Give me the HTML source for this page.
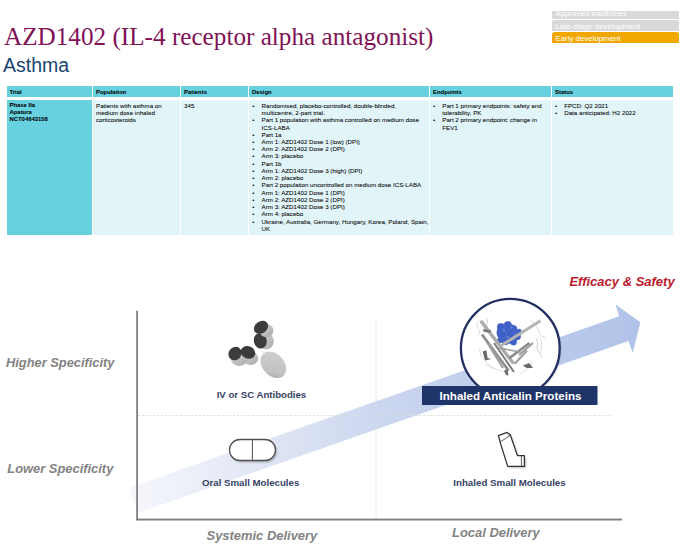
<!DOCTYPE html>
<html><head><meta charset="utf-8">
<style>
html,body{margin:0;padding:0;background:#fff;}
body{width:682px;height:556px;position:relative;overflow:hidden;font-family:"Liberation Sans",sans-serif;}
.abs{position:absolute;white-space:nowrap;}
.title{left:4px;top:22px;font-family:"Liberation Serif",serif;font-size:25.2px;color:#7F1356;line-height:30px;}
.sub{left:3px;top:54px;font-size:19.5px;color:#184670;line-height:22px;}
.leg{position:absolute;left:552px;width:126.5px;height:11px;border-radius:2.5px 2.5px 0 0;color:#fff;font-size:7.87px;line-height:11px;padding-left:3.5px;box-sizing:border-box;}
.cell{position:absolute;}
.hd{background:#68D1DF;}
.bd{background:#E1F4F8;}
.t{position:absolute;font-size:6.2px;line-height:7.24px;color:#000;white-space:nowrap;-webkit-text-stroke:0.05px #000;}
.b{font-weight:bold;font-size:5.9px;}
ul{margin:0;padding:0;list-style:none;}
li{position:relative;}
li:before{content:"\2022";position:absolute;left:-9.3px;}
</style></head><body>
<div class="abs title">AZD1402 (IL-4 receptor alpha antagonist)</div>
<div class="abs sub">Asthma</div>

<div class="leg" style="top:11px;height:8px;border-radius:0;background:#D9D9D9;line-height:6px;overflow:hidden;">Approved medicines</div>
<div class="leg" style="top:20px;background:#D9D9D9;line-height:13px;">Late-stage development</div>
<div class="leg" style="top:32.4px;background:#F0A800;line-height:13px;">Early development</div>

<!-- table header -->
<div class="cell hd" style="left:7px;top:86px;width:85px;height:11px"></div>
<div class="cell hd" style="left:93px;top:86px;width:87px;height:11px"></div>
<div class="cell hd" style="left:181px;top:86px;width:67px;height:11px"></div>
<div class="cell hd" style="left:249px;top:86px;width:180px;height:11px"></div>
<div class="cell hd" style="left:430px;top:86px;width:120.5px;height:11px"></div>
<div class="cell hd" style="left:552px;top:86px;width:120.5px;height:11px"></div>
<!-- body -->
<div class="cell hd" style="left:7px;top:100px;width:85px;height:135px"></div>
<div class="cell bd" style="left:93px;top:100px;width:87px;height:135px"></div>
<div class="cell bd" style="left:181px;top:100px;width:67px;height:135px"></div>
<div class="cell bd" style="left:249px;top:100px;width:180px;height:135px"></div>
<div class="cell bd" style="left:430px;top:100px;width:120.5px;height:135px"></div>
<div class="cell bd" style="left:552px;top:100px;width:120.5px;height:135px"></div>

<div class="t b" style="left:9.5px;top:88.8px">Trial</div>
<div class="t b" style="left:96px;top:88.8px">Population</div>
<div class="t b" style="left:184px;top:88.8px">Patients</div>
<div class="t b" style="left:252px;top:88.8px">Design</div>
<div class="t b" style="left:433px;top:88.8px">Endpoints</div>
<div class="t b" style="left:555px;top:88.8px">Status</div>

<div class="t b" style="left:9.5px;top:101.8px">Phase IIa<br>Apatura<br>NCT04643158</div>
<div class="t" style="left:96px;top:101.8px">Patients with asthma on<br>medium dose inhaled<br>corticosteroids</div>
<div class="t" style="left:184px;top:101.8px">345</div>
<div class="t" style="left:261.6px;top:101.8px"><ul>
<li>Randomised, placebo-controlled, double-blinded,<br>multicentre, 2-part trial.</li>
<li>Part 1 population with asthma controlled on medium dose<br>ICS-LABA</li>
<li>Part 1a</li>
<li>Arm 1: AZD1402 Dose 1 (low) (DPI)</li>
<li>Arm 2: AZD1402 Dose 2 (DPI)</li>
<li>Arm 3: placebo</li>
<li>Part 1b</li>
<li>Arm 1: AZD1402 Dose 3 (high) (DPI)</li>
<li>Arm 2: placebo</li>
<li>Part 2 population uncontrolled on medium dose ICS-LABA</li>
<li>Arm 1: AZD1402 Dose 1 (DPI)</li>
<li>Arm 2: AZD1402 Dose 2 (DPI)</li>
<li>Arm 3: AZD1402 Dose 3 (DPI)</li>
<li>Arm 4: placebo</li>
<li>Ukraine, Australia, Germany, Hungary, Korea, Poland, Spain,<br>UK</li>
</ul></div>
<div class="t" style="left:442.3px;top:101.8px"><ul>
<li>Part 1 primary endpoints: safety and<br>tolerability, PK</li>
<li>Part 2 primary endpoint: change in<br>FEV1</li>
</ul></div>
<div class="t" style="left:564.2px;top:101.8px"><ul>
<li>FPCD: Q2 2021</li>
<li>Data anticipated: H2 2022</li>
</ul></div>

<svg class="abs" style="left:0;top:0" width="682" height="556" viewBox="0 0 682 556">
  <defs>
    <filter id="sh" x="-20%" y="-20%" width="140%" height="140%"><feGaussianBlur stdDeviation="0.8"/></filter>
    <linearGradient id="arrowg" x1="130" y1="0" x2="640" y2="0" gradientUnits="userSpaceOnUse">
      <stop offset="0" stop-color="#F6F7FC"/>
      <stop offset="0.2" stop-color="#E6EAF6"/>
      <stop offset="0.5" stop-color="#CBD6EF"/>
      <stop offset="1" stop-color="#B0C3E8"/>
    </linearGradient>
  </defs>
  <!-- arrow band -->
  <polygon points="129,487.8 619.2,316.2 615.4,304.2 640.4,322.3 632.7,352.9 628.5,341 137.5,513" fill="url(#arrowg)"/>
  <!-- dashed guides -->
  <line x1="376" y1="319" x2="376" y2="518" stroke="#DCDCDC" stroke-width="0.9" stroke-dasharray="2.2,1.6"/>
  <line x1="138" y1="415.5" x2="612" y2="415.5" stroke="#DCDCDC" stroke-width="0.9" stroke-dasharray="2.2,1.6"/>
  <!-- circle + protein -->
  <circle cx="511.3" cy="349.5" r="50.5" fill="#000" opacity="0.07"/>
  <circle cx="510.3" cy="348.3" r="49.4" fill="#fff" stroke="#222F62" stroke-width="2.3"/>
  <g id="protein">
    <path d="M477.6,321.3 C475.0,327.6 481.3,328.9 478.8,335.2" fill="none" stroke="#CFCFCF" stroke-width="0.7"/>
    <path d="M530.5,320.1 C540.5,325.1 535.5,335.2 545.6,337.7" fill="none" stroke="#CFCFCF" stroke-width="0.7"/>
    <path d="M540.5,339.0 C544.3,347.8 538.0,350.3 541.8,357.9" fill="none" stroke="#CFCFCF" stroke-width="0.7"/>
    <path d="M480.1,347.8 C477.6,357.9 488.9,362.9 493.9,369.2" fill="none" stroke="#CFCFCF" stroke-width="0.7"/>
    <path d="M530.5,360.4 C535.5,367.9 524.2,369.2 520.4,374.2" fill="none" stroke="#CFCFCF" stroke-width="0.7"/>
    <path d="M485.1,364.2 C495.2,370.5 502.7,369.2 507.8,375.5" fill="none" stroke="#CFCFCF" stroke-width="0.7"/>
    <ellipse cx="508" cy="333.5" rx="11.5" ry="10" transform="rotate(20 508 333.5)" fill="#3D5FC5"/><g fill="#3E60C6" stroke="#5D7AD2" stroke-width="0.35"><circle cx="500.9" cy="327.0" r="3.78"/><circle cx="507.8" cy="325.1" r="3.78"/><circle cx="513.5" cy="328.9" r="3.53"/><circle cx="502.1" cy="334.6" r="3.78"/><circle cx="510.3" cy="333.9" r="4.03"/><circle cx="517.2" cy="336.4" r="3.53"/><circle cx="505.3" cy="341.5" r="3.53"/><circle cx="513.5" cy="342.1" r="3.27"/><circle cx="500.2" cy="340.2" r="2.77"/><circle cx="519.1" cy="331.4" r="2.52"/></g>
    <g fill="#7D93D8"><circle cx="504.0" cy="330.2" r="1.01"/><circle cx="511.6" cy="327.6" r="0.88"/><circle cx="507.8" cy="337.1" r="0.88"/></g>
    <path d="M482.0,334.5 L508.5,370.5" stroke="#8E8E8E" stroke-width="2.8" stroke-linecap="butt" />
    <path d="M487.5,343 L503,368" stroke="#A0A0A0" stroke-width="2.2" stroke-linecap="butt" />
    <path d="M494,343 L514,372" stroke="#7C7C7C" stroke-width="2" />
    <path d="M536,338 C540,344 534,348 540,354 M486,318 C490,322 484,326 488,330" fill="none" stroke="#BBBBBB" stroke-width="0.7"/>
    <path d="M519,355 L533,343" stroke="#999" stroke-width="2" />
    <path d="M480.7,320.7 L513.5,363.5" stroke="#ABABAB" stroke-width="3.4" stroke-linecap="butt" />
    <path d="M540.5,320.7 L499.6,346.5" stroke="#B4B4B4" stroke-width="3" stroke-linecap="butt" />
    <path d="M529.5,343 L509.5,358" stroke="#8A8A8A" stroke-width="2.6" stroke-linecap="butt" />
    <path d="M527,350.5 L514.5,364" stroke="#A3A3A3" stroke-width="2.4" stroke-linecap="butt" />
    <path d="M499.0,348 L520.4,352" stroke="#9C9C9C" stroke-width="1.4" stroke-linecap="butt" />
    <path d="M482.6,351.6 L486.4,350.3 L487.6,357.9 L491.4,359.1 L485.1,360.4 Z" fill="#6A6A6A"/>
    <path d="M522.9,365.4 L529.2,362.9 L533.0,367.9 L526.7,367.9 Z" fill="#6A6A6A"/>
    <path d="M504.0,370.5 L507.8,369.2 L508.4,375.5 L505.9,374.9 Z" fill="#707070"/>
    <path d="M482.6,328.9 L491.4,330.2 L490.2,332.7 L483.9,332.0 Z" fill="#7A7A7A"/>
  </g>
  <!-- axes -->
  <rect x="136.2" y="310.8" width="1.8" height="209.5" fill="#808080"/>
  <rect x="136.2" y="518.6" width="485.8" height="1.9" fill="#808080"/>
  <!-- label box -->
  <rect x="422" y="386" width="175.5" height="19" fill="#1F3468"/>
  <!-- antibody -->
  <defs>
    <linearGradient id="abg" x1="0" y1="0" x2="1" y2="1">
      <stop offset="0" stop-color="#D6D6D6"/><stop offset="1" stop-color="#A9A9A9"/>
    </linearGradient>
    <linearGradient id="fcg" x1="0" y1="0" x2="1" y2="1">
      <stop offset="0" stop-color="#D2D2D2"/><stop offset="0.7" stop-color="#C2C2C2"/><stop offset="1" stop-color="#9E9E9E"/>
    </linearGradient>
  </defs>
  <g>
    <!-- Fc -->
    <ellipse cx="273.3" cy="364.8" rx="15" ry="10.8" transform="rotate(48 273.3 364.8)" fill="url(#fcg)"/>
    <path d="M264,366 C270,362 276,360 283,360 M268,356 C271,362 276,368 278,375" fill="none" stroke="#BDBDBD" stroke-width="0.4"/>
    <line x1="262" y1="351" x2="266" y2="355" stroke="#E0E0E0" stroke-width="0.8"/>
    <!-- top arm -->
    <ellipse cx="266.2" cy="341.3" rx="7.6" ry="8.2" fill="url(#abg)"/>
    <ellipse cx="260.3" cy="340.8" rx="6.4" ry="7.8" transform="rotate(-12 260.3 340.8)" fill="#3C3C3C"/>
    <ellipse cx="266.5" cy="330.6" rx="7" ry="6.6" fill="url(#abg)"/>
    <ellipse cx="261" cy="327.3" rx="7.6" ry="5.9" transform="rotate(-35 261 327.3)" fill="#3C3C3C"/>
    <!-- left arm -->
    <ellipse cx="250.5" cy="358.3" rx="7.8" ry="6.6" fill="url(#abg)"/>
    <ellipse cx="239.2" cy="359.4" rx="8.2" ry="6.6" fill="url(#abg)"/>
    <ellipse cx="235" cy="353.6" rx="6.3" ry="7" transform="rotate(40 235 353.6)" fill="#3C3C3C"/>
    <ellipse cx="248" cy="352.4" rx="7.4" ry="6.2" transform="rotate(25 248 352.4)" fill="#3A3A3A"/>
  </g>
  <!-- pill -->
  <rect x="231" y="441.3" width="46" height="21" rx="10.5" fill="#000" opacity="0.25" filter="url(#sh)"/>
  <rect x="229.5" y="439.5" width="46" height="21" rx="10.5" fill="#fff" stroke="#505050" stroke-width="1.3"/>
  <line x1="252.4" y1="439.5" x2="252.4" y2="460.5" stroke="#505050" stroke-width="1"/>
  <!-- inhaler -->
  <path d="M500,437.2 L508.6,434 L511.9,436.7 L518.9,457.2 L525.9,457.2 L525.9,468 L509.2,468 L501.6,443.7 Z" fill="#000" opacity="0.25" filter="url(#sh)"/>
  <path d="M498.5,435.6 L507.1,432.4 L510.4,435.1 L517.4,455.6 L524.4,455.6 L524.4,466.4 L507.7,466.4 L500.1,442.1 Z" fill="#fff" stroke="#333" stroke-width="1.3" stroke-linejoin="round"/>
  <path d="M500.1,442.1 L510.4,435.1 M521.4,456 L521.4,466" fill="none" stroke="#333" stroke-width="0.8"/>
</svg>
<div class="abs" style="left:439.5px;top:389.3px;font-size:11.6px;font-weight:bold;color:#fff;">Inhaled Anticalin Proteins</div>
<div class="abs" style="left:216.7px;top:389px;font-size:9.63px;font-weight:bold;color:#374263;">IV or SC Antibodies</div>
<div class="abs" style="left:202px;top:476.5px;font-size:9.69px;font-weight:bold;color:#374263;">Oral Small Molecules</div>
<div class="abs" style="left:453.3px;top:476.5px;font-size:9.72px;font-weight:bold;color:#374263;">Inhaled Small Molecules</div>

<div class="abs" style="left:6px;top:354.6px;font-size:12.85px;font-weight:bold;font-style:italic;color:#838383;">Higher Specificity</div>
<div class="abs" style="left:7.3px;top:460.8px;font-size:12.9px;font-weight:bold;font-style:italic;color:#838383;">Lower Specificity</div>
<div class="abs" style="left:206.5px;top:527.5px;font-size:12.95px;font-weight:bold;font-style:italic;color:#838383;">Systemic Delivery</div>
<div class="abs" style="left:452px;top:525.2px;font-size:12.95px;font-weight:bold;font-style:italic;color:#838383;">Local Delivery</div>
<div class="abs" style="left:569.4px;top:274px;font-size:13px;font-weight:bold;font-style:italic;color:#BA1A2E;">Efficacy &amp; Safety</div>

</body></html>
